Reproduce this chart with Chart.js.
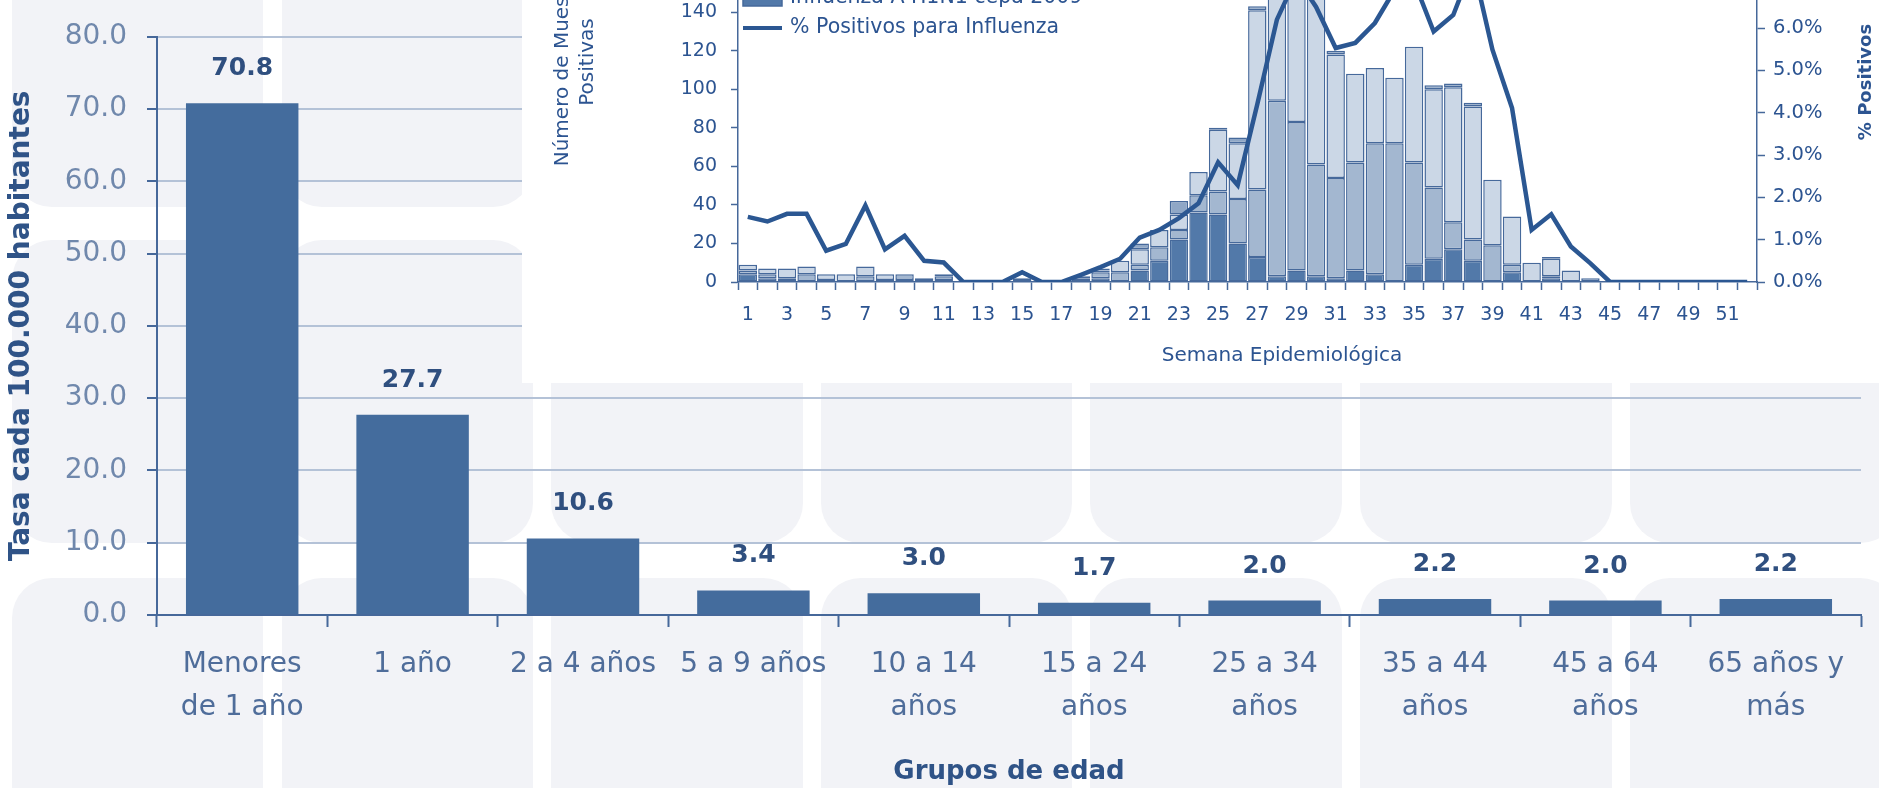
<!DOCTYPE html>
<html>
<head>
<meta charset="utf-8">
<script src="https://cdn.jsdelivr.net/npm/chart.js@4.4.0/dist/chart.umd.min.js"></script>
<style>
html, body { margin: 0; padding: 0; background: #fff; overflow: hidden; }
#wrap { position: relative; width: 1879px; height: 788px; overflow: hidden; }
#mainChart { position: absolute; left: 0; top: 0; }
#insetChart { position: absolute; left: 522px; top: -120px; background: #fff; }
</style>
</head>
<body>
<div id="wrap">
  <canvas id="mainChart" width="1879" height="788"></canvas>
  <canvas id="insetChart" width="1357" height="503"></canvas>
</div>
<script>
// main chart: tasa por grupo de edad
const ageGroups = [['Menores', 'de 1 año'], '1 año', '2 a 4 años', '5 a 9 años', ['10 a 14', 'años'],
    ['15 a 24', 'años'], ['25 a 34', 'años'], ['35 a 44', 'años'], ['45 a 64', 'años'], ['65 años y', 'más']];
const rates = [70.8, 27.7, 10.6, 3.4, 3.0, 1.7, 2.0, 2.2, 2.0, 2.2];

// inset: muestras positivas por semana epidemiologica
const weeks = ['1','2','3','4','5','6','7','8','9','10','11','12','13','14','15','16','17','18','19','20',
    '21','22','23','24','25','26','27','28','29','30','31','32','33','34','35','36','37','38','39','40',
    '41','42','43','44','45','46','47','48','49','50','51','52'];
const fluH1N1 = [4,2,1,0,1,0,0,1,1,1,1,0,0,0,0,0,0,1,2,0,6,11,22,36,35,20,13,3,6,3,2,6,4,0,9,12,17,11,0,5,0,2,0,0,0,0,0,0,0,0,0,0];
const fluANoSub = [2,2,1,4,0,0,3,0,3,1,2,0,0,0,1,0,0,1,3,5,3,7,5,9,12,23,35,91,77,58,52,56,68,72,53,37,14,11,19,4,0,1,0,0,0,0,0,0,0,0,0,0];
const fluAEst = [3,3,5,4,3,4,5,3,0,0,1,0,0,0,1,0,0,1,1,6,8,9,8,12,32,29,93,61,87,90,64,46,39,34,60,51,70,69,34,25,10,9,6,2,0,0,0,0,0,0,0,0];
const fluB = [0,0,0,0,0,0,0,0,0,0,0,0,0,0,0,0,0,0,1,0,3,0,7,0,1,3,2,0,0,0,2,0,0,0,0,2,2,2,0,0,0,1,0,0,0,0,0,0,0,0,0,0];
const pctPositive = [1.54,1.43,1.61,1.61,0.74,0.90,1.81,0.77,1.09,0.50,0.46,0,0,0,0.23,0,0,0.17,0.35,0.55,
    1.05,1.23,1.51,1.86,2.83,2.29,4.2,6.2,7.2,6.5,5.53,5.65,6.12,6.9,7.1,5.92,6.31,7.5,5.49,4.11,
    1.23,1.60,0.84,0.44,0,0,0,0,0,0,0,0];

const AXIS = '#46689a';
const INK = '#2c5491';
Chart.defaults.font.family = "'DejaVu Sans', Verdana, sans-serif";

// background tiles behind the main chart
const tilePlugin = {
    id: 'tiles',
    beforeDraw(chart) {
        const ctx = chart.ctx;
        ctx.save();
        ctx.fillStyle = '#ffffff';
        ctx.fillRect(0, 0, chart.width, chart.height);
        ctx.fillStyle = '#f2f3f7';
        const cols = [[12, 263], [282, 533], [551, 803], [821, 1072], [1090, 1342], [1360, 1612], [1630, 1900]];
        const rows = [[-120, 207], [240, 543], [578, 900]];
        cols.forEach(c => rows.forEach(r => {
            ctx.beginPath();
            ctx.roundRect(c[0], r[0], c[1] - c[0], r[1] - r[0], 40);
            ctx.fill();
        }));
        ctx.restore();
    }
};

const valueLabels = {
    id: 'valueLabels',
    afterDatasetsDraw(chart) {
        const ctx = chart.ctx;
        ctx.save();
        ctx.font = "bold 25px 'DejaVu Sans'";
        ctx.fillStyle = '#2f4f7f';
        ctx.textAlign = 'center';
        ctx.textBaseline = 'alphabetic';
        chart.getDatasetMeta(0).data.forEach((bar, i) => {
            ctx.fillText(rates[i].toFixed(1), bar.x, bar.y - 28);
        });
        ctx.restore();
    }
};

new Chart(document.getElementById('mainChart'), {
    type: 'bar',
    data: {
        labels: ageGroups,
        datasets: [{
            data: rates,
            backgroundColor: '#446c9d',
            borderWidth: 0,
            categoryPercentage: 1,
            barPercentage: 0.66,
        }],
    },
    options: {
        responsive: false,
        animation: false,
        layout: { padding: { top: 22, right: 18, left: 0, bottom: 0 } },
        plugins: { legend: { display: false }, tooltip: { enabled: false } },
        scales: {
            x: {
                grid: { drawOnChartArea: false, offset: true, tickLength: 12, tickColor: AXIS, tickWidth: 2 },
                border: { color: AXIS, width: 2 },
                ticks: { color: '#4f6d9a', font: { size: 28, lineHeight: 1.54 }, padding: 16, maxRotation: 0, autoSkip: false },
                title: { display: true, text: 'Grupos de edad', color: '#2f5387',
                    font: { size: 26, weight: 'bold' }, padding: { top: 0, bottom: 0 } },
                afterFit: s => { s.height = 173; },
            },
            y: {
                min: 0,
                max: 80,
                ticks: { stepSize: 10, callback: v => v.toFixed(1), color: '#7088ac', font: { size: 28 }, padding: 20 },
                grid: { color: '#b4c2d7', lineWidth: 2, tickLength: 10, tickColor: AXIS, tickWidth: 2 },
                border: { color: AXIS, width: 2 },
                title: { display: true, text: 'Tasa cada 100.000 habitantes', color: '#2f5387',
                    font: { size: 28, weight: 'bold' }, padding: { top: 5, bottom: 0 } },
                afterFit: s => { s.width = 157; },
            },
        },
    },
    plugins: [tilePlugin, valueLabels],
});

// legend and titles of the inset, drawn by hand
const insetExtras = {
    id: 'insetExtras',
    afterDraw(chart) {
        const ctx = chart.ctx;
        ctx.save();
        // legend, bottom row is the line series
        const order = [3, 2, 1, 0, 4];
        const lastY = 148;
        ctx.font = "20.5px 'DejaVu Sans'";
        ctx.textBaseline = 'middle';
        ctx.textAlign = 'left';
        order.forEach((di, k) => {
            const ds = chart.data.datasets[di];
            const y = lastY - (order.length - 1 - k) * 30;
            if (ds.type === 'line') {
                ctx.strokeStyle = ds.borderColor;
                ctx.lineWidth = 4;
                ctx.beginPath();
                ctx.moveTo(221, y);
                ctx.lineTo(260, y);
                ctx.stroke();
            } else {
                ctx.fillStyle = ds.backgroundColor;
                ctx.fillRect(221, y - 8, 39, 16);
                ctx.strokeStyle = ds.borderColor;
                ctx.lineWidth = 1.5;
                ctx.strokeRect(221, y - 8, 39, 16);
            }
            ctx.fillStyle = INK;
            ctx.fillText(ds.label, 268, y);
        });
        ctx.fillStyle = INK;
        ctx.textAlign = 'center';
        // x title
        ctx.font = "20px 'DejaVu Sans'";
        ctx.fillText('Semana Epidemiológica', 760, 476);
        // left title (two lines)
        ctx.save();
        ctx.translate(41, 182);
        ctx.rotate(-Math.PI / 2);
        ctx.fillText('Número de Muestras', 0, 0);
        ctx.restore();
        ctx.save();
        ctx.translate(66, 182);
        ctx.rotate(-Math.PI / 2);
        ctx.fillText('Positivas', 0, 0);
        ctx.restore();
        // right title
        ctx.save();
        ctx.font = "bold 18px 'DejaVu Sans'";
        ctx.translate(1344, 202);
        ctx.rotate(-Math.PI / 2);
        ctx.fillText('% Positivos', 0, 0);
        ctx.restore();
        ctx.restore();
    }
};

const barBorder = '#46699b';
const barCommon = { borderColor: barBorder, borderWidth: 1.5, borderSkipped: false,
    categoryPercentage: 1, barPercentage: 0.94, yAxisID: 'y', order: 1 };

new Chart(document.getElementById('insetChart'), {
    type: 'bar',
    data: {
        labels: weeks,
        datasets: [
            { ...barCommon, label: 'Influenza A H1N1 cepa 2009', data: fluH1N1, backgroundColor: '#5279a9' },
            { ...barCommon, label: 'Influenza A sin subtipificar', data: fluANoSub, backgroundColor: '#a3b7d0' },
            { ...barCommon, label: 'Influenza A estacional', data: fluAEst, backgroundColor: '#cbd7e6' },
            { ...barCommon, label: 'Influenza B', data: fluB, backgroundColor: '#8fa7c6' },
            { type: 'line', label: '% Positivos para Influenza', data: pctPositive, yAxisID: 'y1',
                borderColor: '#2b5792', borderWidth: 4.5, pointRadius: 0, tension: 0, order: 0 },
        ],
    },
    options: {
        responsive: false,
        animation: false,
        layout: { padding: { top: 55, right: 0, left: 0, bottom: 0 } },
        plugins: { legend: { display: false }, tooltip: { enabled: false } },
        scales: {
            x: {
                stacked: true,
                grid: { drawOnChartArea: false, offset: true, tickLength: 8, tickColor: AXIS, tickWidth: 1.5 },
                border: { color: AXIS, width: 1.5 },
                ticks: { color: INK, font: { size: 19 }, padding: 14, maxRotation: 0, autoSkip: false,
                    callback: (v, i) => (i % 2 === 0 ? weeks[i] : '') },
                afterFit: s => { s.height = 101; },
            },
            y: {
                stacked: true,
                min: 0,
                max: 180,
                ticks: { stepSize: 20, color: INK, font: { size: 19 }, padding: 14 },
                grid: { drawOnChartArea: false, tickLength: 7, tickColor: AXIS, tickWidth: 1.5 },
                border: { color: AXIS, width: 1.5 },
                afterFit: s => { s.width = 216; },
            },
            y1: {
                position: 'right',
                min: 0,
                max: 8.2,
                ticks: { stepSize: 1, color: INK, font: { size: 19.5 }, padding: 8,
                    callback: v => v.toFixed(1) + '%' },
                grid: { drawOnChartArea: false, tickLength: 8, tickColor: AXIS, tickWidth: 1.5 },
                border: { color: AXIS, width: 1.5 },
                afterFit: s => { s.width = 122; },
            },
        },
    },
    plugins: [insetExtras],
});
</script>
</body>
</html>
